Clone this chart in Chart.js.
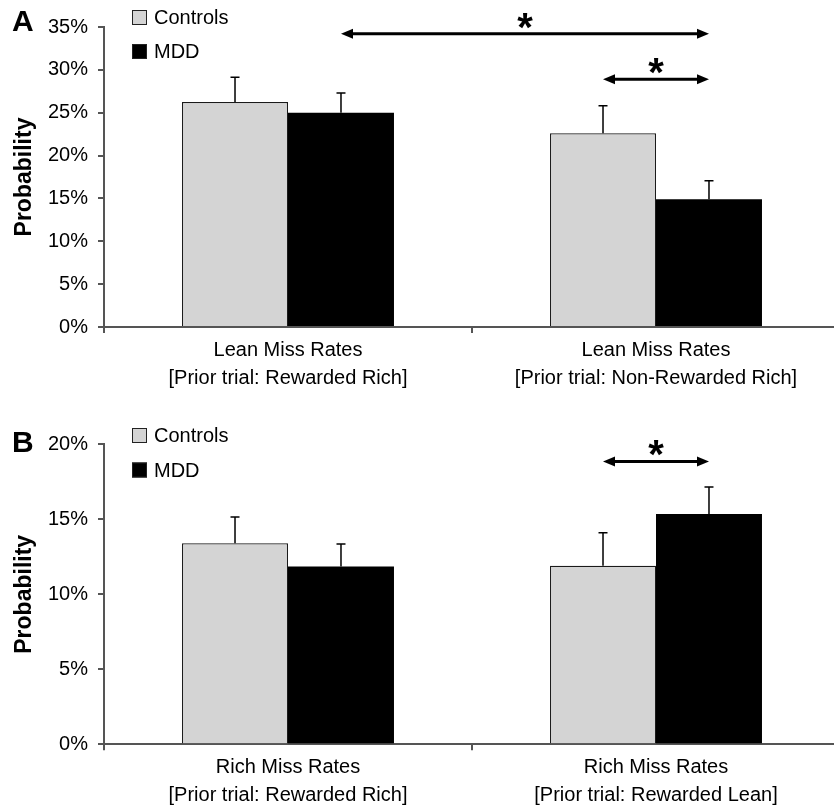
<!DOCTYPE html>
<html><head><meta charset="utf-8">
<script src="https://cdn.jsdelivr.net/npm/chart.js@4"></script>
<style>
html,body{margin:0;padding:0;background:#fff;overflow:hidden;width:834px;height:807px;position:relative;}
#ca{position:absolute;left:0;top:0;}
#cb{position:absolute;left:0;top:400px;}
</style></head><body>
<canvas id="ca" width="842" height="400"></canvas>
<canvas id="cb" width="842" height="407"></canvas>
<script>
// ---- data ----
const seriesNames = ['Controls', 'MDD'];
const categoriesA = [['Lean Miss Rates', '[Prior trial: Rewarded Rich]'], ['Lean Miss Rates', '[Prior trial: Non-Rewarded Rich]']];
const controlsA = [26.25, 22.6];
const controlsErrA = [2.9, 3.2];
const mddA = [25.0, 14.9];
const mddErrA = [2.3, 2.15];
const yTicksA = [0, 5, 10, 15, 20, 25, 30, 35];
// significance: [datasetFrom, categoryFrom, datasetTo, categoryTo, level(%)]
const sigA = [[1, 0, 1, 1, 34.2], [0, 1, 1, 1, 28.9]];

const categoriesB = [['Rich Miss Rates', '[Prior trial: Rewarded Rich]'], ['Rich Miss Rates', '[Prior trial: Rewarded Lean]']];
const controlsB = [13.4, 11.9];
const controlsErrB = [1.75, 2.2];
const mddB = [11.85, 15.35];
const mddErrB = [1.5, 1.8];
const yTicksB = [0, 5, 10, 15, 20];
const sigB = [[0, 1, 1, 1, 18.85]];

const FONT = '"Liberation Sans", Arial, Helvetica, sans-serif';
const AXIS = '#555';
const FS = 20;

const decoPlugin = {
  id: 'deco',
  afterDatasetsDraw(chart, args, o) {
    const ctx = chart.ctx, y = chart.scales.y;
    // error bars
    chart.data.datasets.forEach((ds, di) => {
      const meta = chart.getDatasetMeta(di);
      meta.data.forEach((bar, i) => {
        const top = y.getPixelForValue(ds.data[i] + ds.err[i]);
        ctx.save();
        ctx.strokeStyle = '#000'; ctx.lineWidth = 1.5;
        ctx.beginPath();
        ctx.moveTo(bar.x, bar.y); ctx.lineTo(bar.x, top);
        ctx.moveTo(bar.x - 4.5, top); ctx.lineTo(bar.x + 4.5, top);
        ctx.stroke();
        ctx.restore();
      });
    });
    // significance arrows
    o.sig.forEach(([d1, i1, d2, i2, lv]) => {
      const x1 = chart.getDatasetMeta(d1).data[i1].x;
      const x2 = chart.getDatasetMeta(d2).data[i2].x;
      const yy = y.getPixelForValue(lv);
      const hl = 12, hw = 5;
      ctx.save();
      ctx.strokeStyle = '#000'; ctx.fillStyle = '#000'; ctx.lineWidth = 3;
      ctx.beginPath(); ctx.moveTo(x1 + hl - 1, yy); ctx.lineTo(x2 - hl + 1, yy); ctx.stroke();
      ctx.beginPath(); ctx.moveTo(x1, yy); ctx.lineTo(x1 + hl, yy - hw); ctx.lineTo(x1 + hl, yy + hw); ctx.closePath(); ctx.fill();
      ctx.beginPath(); ctx.moveTo(x2, yy); ctx.lineTo(x2 - hl, yy - hw); ctx.lineTo(x2 - hl, yy + hw); ctx.closePath(); ctx.fill();
      const sf = 40;
      ctx.font = 'bold ' + sf + 'px ' + FONT;
      ctx.textAlign = 'center'; ctx.textBaseline = 'alphabetic';
      ctx.fillText('*', (x1 + x2) / 2, yy - 16 + 0.57 * sf);
      ctx.restore();
    });
    // legend
    ctx.save();
    chart.data.datasets.forEach((ds, di) => {
      const cy = o.legend.y[di];
      const s = 15;
      ctx.fillStyle = ds.backgroundColor;
      ctx.fillRect(o.legend.x, cy - s / 2, s, s);
      ctx.strokeStyle = '#222'; ctx.lineWidth = 1;
      ctx.strokeRect(o.legend.x + 0.5, cy - s / 2 + 0.5, s - 1, s - 1);
      ctx.fillStyle = '#000';
      ctx.font = FS + 'px ' + FONT;
      ctx.textAlign = 'left'; ctx.textBaseline = 'middle';
      ctx.fillText(ds.label, o.legend.x + 22, cy + 1);
    });
    // panel letter
    ctx.font = 'bold 30px ' + FONT;
    ctx.textAlign = 'left'; ctx.textBaseline = 'alphabetic';
    ctx.fillStyle = '#000';
    ctx.fillText(o.letter.text, o.letter.x, o.letter.y);
    ctx.restore();
  }
};

function makeChart(id, cats, ctrl, ctrlErr, mdd, mddErr, yTicks, sig, opts) {
  return new Chart(document.getElementById(id), {
    type: 'bar',
    data: {
      labels: cats,
      datasets: [
        { label: seriesNames[0], data: ctrl, err: ctrlErr, backgroundColor: '#d4d4d4', borderColor: '#1a1a1a', borderWidth: 1.2 },
        { label: seriesNames[1], data: mdd, err: mddErr, backgroundColor: '#000000', borderColor: '#000000', borderWidth: 0 }
      ]
    },
    options: {
      responsive: false,
      animation: false,
      events: [],
      layout: { padding: { top: opts.padTop, left: 0, right: 2, bottom: 0 } },
      datasets: { bar: { categoryPercentage: 0.576, barPercentage: 1 } },
      plugins: {
        legend: { display: false },
        tooltip: { enabled: false },
        deco: { sig: sig, legend: opts.legend, letter: opts.letter }
      },
      scales: {
        x: {
          offset: true,
          grid: { offset: true, drawOnChartArea: false, drawTicks: true, tickLength: 6, color: AXIS, lineWidth: 2 },
          border: { color: AXIS, width: 2 },
          ticks: { font: { family: FONT, size: FS, lineHeight: 1.4 }, color: '#000', padding: 3, maxRotation: 0, autoSkip: false },
          afterFit: s => { s.height = opts.xH; }
        },
        y: {
          min: yTicks[0], max: yTicks[yTicks.length - 1],
          afterBuildTicks: s => { s.ticks = yTicks.map(v => ({ value: v })); },
          grid: { drawOnChartArea: false, tickLength: 6, color: AXIS, lineWidth: 2 },
          border: { color: AXIS, width: 2 },
          ticks: { font: { family: FONT, size: FS }, color: '#000', padding: 10, callback: v => v + '%' },
          title: { display: true, text: 'Probability', font: { family: FONT, size: 23, weight: 'bold' }, color: '#000', padding: { top: 11, bottom: 0 } },
          afterFit: s => { s.width = 104; }
        }
      }
    },
    plugins: [decoPlugin]
  });
}

makeChart('ca', categoriesA, controlsA, controlsErrA, mddA, mddErrA, yTicksA, sigA,
  { padTop: 27, xH: 73, legend: { x: 132, y: [17.5, 51.5] }, letter: { text: 'A', x: 12, y: 31 } });
makeChart('cb', categoriesB, controlsB, controlsErrB, mddB, mddErrB, yTicksB, sigB,
  { padTop: 44.3, xH: 62.7, legend: { x: 132, y: [35.5, 70] }, letter: { text: 'B', x: 12, y: 52 } });
</script>
</body></html>
